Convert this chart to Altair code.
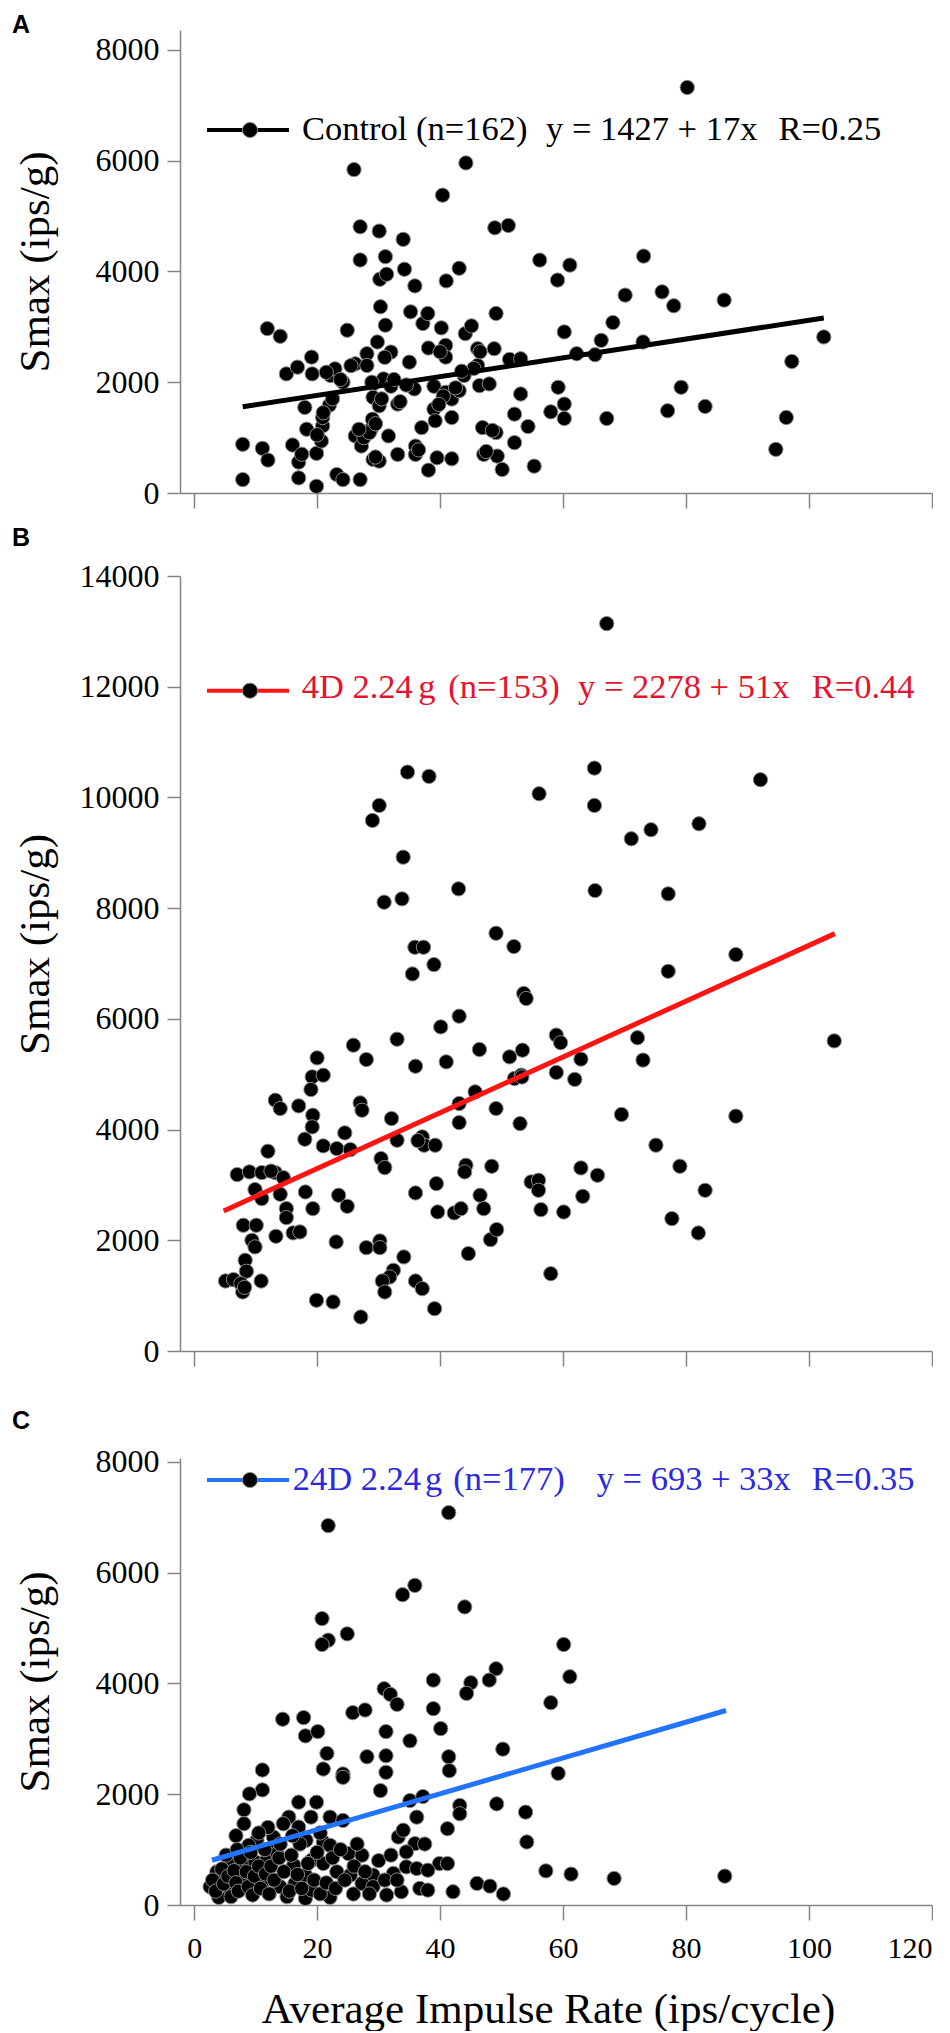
import altair as alt
import pandas as pd

# ---------------- data ----------------
a_x = [7.9, 7.9, 11.1, 11.9, 12.0, 14.0, 15.0, 16.0, 16.8, 17.0, 17.0, 18.0, 18.3, 19.1, 19.2, 19.9, 19.9,
       20.7, 20.9, 20.9, 22.0, 22.2, 22.9, 23.2, 24.2, 24.2, 24.9, 26.2, 26.2, 27.0, 27.2, 27.6, 28.1, 28.1,
       28.8, 29.0, 29.1, 29.1, 29.1, 29.8, 30.1, 30.1, 30.3, 30.8, 31.1, 31.6, 32.0, 32.0, 33.1, 33.1, 35.0,
       35.2, 35.8, 36.0, 36.0, 37.0, 37.2, 38.0, 38.1, 38.1, 39.0, 39.0, 39.2, 39.5, 40.2, 40.9, 40.9, 40.9,
       41.9, 41.9, 41.9, 43.1, 43.9, 44.1, 45.1, 46.1, 46.1, 46.4, 46.9, 47.1, 48.0, 48.8, 49.1, 49.1, 49.3,
       50.1, 51.3, 52.1, 52.1, 53.1, 53.1, 54.3, 55.3, 58.0, 59.2, 60.2, 60.2, 60.2, 62.2, 65.2, 66.2, 67.1,
       68.1, 73.0, 77.0, 78.0, 79.2, 83.1, 86.2, 94.6, 96.3, 97.2, 102.4,
       70.1, 26.0, 27.0, 30.1, 34.0, 27.0, 31.1, 34.2, 30.2, 31.3, 35.9, 40.4, 44.2, 43.1, 41.0, 80.2, 48.9,
       51.1, 56.2, 61.1, 59.1, 73.1, 76.1,
       28.5, 29.5, 30.5, 28.9, 32.5, 31.0, 21.5, 23.8, 17.5, 20.0, 21.0, 40.5, 42.5, 45.5, 46.5, 40.0, 36.5,
       39.8, 47.5, 48.5, 33.5, 34.5, 25.5, 22.5, 26.8, 29.5, 43.5]
a_y = [879, 242, 806, 2969, 594, 2830, 2151, 867, 2272, 558, 273, 1545, 1151, 2454, 2151, 715, 121,
       939, 1212, 1363, 1587, 2121, 2242, 333, 242, 2000, 2939, 2333, 1030, 242, 848, 1000, 2515, 2303,
       1151, 1333, 1969, 1727, 606, 2727, 1575, 576, 3363, 2060, 3030, 1030, 2545, 1927, 697, 1606, 2363,
       3272, 1879, 848, 697, 1181, 3060, 3242, 2618, 412, 1927, 1515, 1303, 636, 2982, 2666, 2454, 1818,
       1697, 1363, 618, 1848, 2121, 2878, 3018, 2606, 2303, 1939, 1181, 697, 1969, 2606, 3242, 1091, 667,
       424, 2412, 909, 1424, 2424, 1788, 1200, 485, 1466, 1909, 1606, 1345, 2909, 2515, 2497, 2757, 1345,
       3078, 2727, 1485, 3381, 1909, 1563, 3484, 788, 1363, 2375, 2818,
       3573, 5840, 4808, 4730, 4580, 4208, 4268, 4040, 3860, 3950, 3740, 5378, 5960, 4058, 3830, 7323, 4789,
       4831, 4206, 4116, 3845, 4278, 3633,
       1090, 1250, 1700, 2000, 2050, 2450, 2180, 2050, 700, 1050, 1450, 1750, 1900, 2250, 2550, 2550, 780,
       1600, 750, 1130, 1650, 1950, 2300, 1700, 1150, 650, 2200]

b_x = [34.7, 38.2, 30.1, 29.0, 34.0, 43.0, 30.9, 33.8, 49.1, 52.0, 35.9, 37.3, 39.0, 35.5,
       67.1, 65.1, 56.1, 65.1, 92.1, 82.1, 74.3, 71.1, 65.2, 77.1, 88.1, 77.1,
       53.6, 54.0, 43.1, 40.1, 33.0, 25.9, 28.0, 36.0, 41.0, 46.4, 51.3, 53.4, 20.0, 19.2, 21.0, 19.0,
       52.1, 53.2, 45.7, 43.1, 49.1, 13.2, 14.0, 17.0, 27.0, 27.3, 19.3, 19.2, 32.1, 43.1, 53.0, 24.5,
       18.0, 21.0, 23.2, 25.4, 33.0, 37.1, 37.4, 39.2, 12.0, 30.4, 31.0, 44.2, 44.0, 48.4, 7.0, 9.0,
       11.0, 13.2, 14.5, 9.9, 11.0, 14.0, 18.1, 23.5, 24.9, 19.3, 15.0, 15.0, 36.0, 39.4, 39.6, 42.3,
       43.4, 46.5, 47.1, 54.8, 8.0, 10.1, 9.4, 9.9, 13.3, 16.1, 17.2, 23.1, 28.0, 30.2, 30.2, 34.1,
       48.2, 49.2, 44.6, 8.3, 8.5, 5.1, 6.4, 7.6, 7.9, 10.9, 32.4, 31.8, 30.6, 31.0, 36.0, 37.1, 19.9,
       22.6, 27.1, 39.1,
       58.9, 59.6, 62.9, 58.9, 61.9, 72.1, 73.0, 104.1, 69.5, 88.1, 75.1, 79.0, 83.1, 77.7, 82.0, 62.9,
       65.6, 56.0, 56.0, 63.2, 56.4, 60.1, 58.0,
       8.2, 36.4, 53.3, 12.5]
b_y = [10458, 10380, 9855, 9584, 8921, 8349, 8107, 8168, 7546, 7306, 7293, 7293, 6980, 6811,
       13140, 10530, 10066, 9855, 10320, 9524, 9416, 9253, 8318, 8258, 7161, 6859,
       6458, 6367, 6048, 5855, 5632, 5524, 5265, 5144, 5223, 5446, 5313, 5434, 5295, 4952, 4982, 4723,
       4922, 4982, 4681, 4470, 4380, 4530, 4380, 4428, 4482, 4349, 4259, 4048, 4199, 4126, 4108, 3940,
       3825, 3705, 3657, 3638, 3807, 3867, 3717, 3717, 3608, 3476, 3313, 3355, 3235, 3337, 3187, 3235,
       3223, 3223, 3132, 2916, 2753, 2831, 2873, 2813, 2614, 2572, 2572, 2410, 2855, 3024, 2512, 2494,
       2572, 2813, 2572, 3054, 2271, 2271, 2000, 1880, 2072, 2133, 2151, 1970, 1867, 1988, 1867, 1699,
       2012, 2193, 1759, 1639, 1440, 1265, 1289, 1217, 1066, 1265, 1458, 1337, 1265, 1066, 1265, 1126, 916,
       886, 614, 765,
       5707, 5569, 5273, 5032, 4906, 5659, 5255, 5602, 4272, 4242, 3718, 3337, 2903, 2391, 2132, 3307,
       3174, 3084, 2903, 2794, 2553, 2511, 1396,
       1150, 3800, 4950, 3250]

c_x = [21.8, 41.4, 35.9, 33.9, 44.0, 20.8, 24.9, 21.8, 20.8, 49.1, 48.0, 45.0, 44.3, 38.9, 38.9, 30.9,
       31.9, 33.0, 25.8, 27.8, 14.4, 17.8,
       60.1, 61.1, 58.0,
       18.1, 20.1, 31.2, 35.1, 21.6, 21.0, 24.2, 24.2, 28.1, 31.2, 31.2, 30.3, 11.1, 11.1, 9.0, 8.1, 8.1,
       17.0, 19.9, 15.4, 14.5, 19.0, 17.0, 22.1, 24.2, 35.1, 36.2, 10.2, 12.9, 8.9, 12.9, 18.2, 21.0, 22.1,
       33.2, 35.9, 34.5, 5.9, 3.7, 7.8, 9.9, 11.8, 13.5, 16.2, 19.1, 21.0, 23.2, 25.1, 27.3, 25.4, 29.1,
       32.4, 34.5, 36.2, 2.6, 4.0, 5.9, 8.1, 11.0, 14.0, 15.1, 16.4, 18.1, 18.1, 19.1, 22.1, 25.9, 27.3,
       29.1, 31.3, 33.7, 36.7,
       40.1, 50.2, 41.4, 41.5, 59.2, 37.2, 43.2, 43.2, 49.2, 53.9, 41.2, 54.1, 39.9, 41.2, 38.0, 38.0, 42.1,
       46.0, 48.1, 50.3, 57.2, 61.3, 68.3, 86.3,
       3.0, 3.5, 4.5, 4.8, 5.2, 5.5, 6.0, 6.5, 6.8, 7.0, 7.2, 7.5, 8.5, 8.8, 9.2, 9.5, 9.8, 10.5, 10.8,
       11.5, 11.6, 12.2, 12.5, 13.0, 13.8, 14.6, 15.5, 15.8, 16.8, 17.2, 17.5, 18.5, 19.5, 20.0, 20.5,
       21.5, 22.5, 23.0, 23.8, 24.5, 26.0, 26.5, 27.8, 28.5, 30.0, 31.0, 32.0, 33.0, 34.0, 37.5, 20.5,
       16.0, 14.0, 12.0, 10.5, 6.8]
c_y = [6847, 7081, 5768, 5600, 5379, 5169, 4893, 4779, 4701, 4263, 4059, 4011, 3819, 4059, 3543, 3903,
       3801, 3621, 3471, 3519, 3352, 3382,
       4701, 4119, 3651,
       3052, 3130, 3130, 2963, 2735, 2454, 2364, 2304, 2675, 2693, 2394, 2065, 2436, 2077, 2005, 1718, 1466,
       1855, 1855, 1586, 1466, 1586, 1406, 1586, 1526, 1885, 1586, 1167, 1227, 1077, 987, 1167, 1137, 1077,
       1227, 1107, 958, 778, 599, 748, 778, 808, 928, 718, 808, 748, 599, 928, 898, 539, 539,
       569, 688, 658, 329, 138, 281, 479, 389, 329, 150, 389, 539, 120, 269, 138, 198, 389,
       329, 180, 239, 299,
       3184, 2813, 2675, 2424, 2376, 1957, 1796, 1646, 1825, 1676, 1377, 1137, 748, 748, 628, 269, 239,
       389, 341, 198, 616, 557, 479, 521,
       450, 250, 650, 380, 900, 520, 150, 620, 400, 1000, 250, 850, 600, 330, 950, 180, 520, 700, 300,
       1000, 560, 200, 700, 450, 850, 600, 250, 900, 550, 1100, 300, 750, 450, 950, 200,
       400, 850, 300, 1000, 450, 700, 1100, 600, 200, 800, 450, 900, 450, 1350, 1100, 1300,
       1250, 1100, 1400, 1300, 1250]

# regression line end points
a_line_x = [7.9, 102.4]
a_line_y = [1558, 3160]
b_line_x = [4.8, 104.2]
b_line_y = [2530, 7540]
c_line_x = [2.9, 86.5]
c_line_y = [808, 3510]

x_ticks = [0, 20, 40, 60, 80, 100, 120]
a_ticks = [0, 2000, 4000, 6000, 8000]
b_ticks = [0, 2000, 4000, 6000, 8000, 10000, 12000, 14000]
c_ticks = [0, 2000, 4000, 6000, 8000]

a_legend = ["Control (n=162)", "y = 1427 + 17x", "R=0.25"]
b_legend = ["4D 2.24", "g", "(n=153)", "y = 2278 + 51x", "R=0.44"]
c_legend = ["24D 2.24", "g", "(n=177)", "y = 693 + 33x", "R=0.35"]

y_title = "Smax (ips/g)"
x_title = "Average Impulse Rate (ips/cycle)"

# ---------------- styling / layout ----------------
SERIF = "Liberation Serif"
SANS = "Liberation Sans"
X_DOMAIN = [-2.3, 120]
WIDTH = 752
AXIS_GRAY = "#858585"


def panel(xs, ys, lx, ly, line_color, text_color, ymax, yvals, height, title_y,
          letter, letter_y, bound_y, leg_y, txt_y, pieces, piece_x, bottom):
    df = pd.DataFrame({"x": xs, "y": ys})
    ldf = pd.DataFrame({"x": lx, "y": ly})
    one = pd.DataFrame({"k": [0]})
    xscale = alt.Scale(domain=X_DOMAIN, nice=False, zero=False)
    yscale = alt.Scale(domain=[0, ymax], nice=False, zero=False)
    if bottom:
        xaxis = alt.Axis(values=x_ticks, tickSize=15, tickWidth=1.5, domainWidth=1.5,
                         labelPadding=13, labelFontSize=30, labelFont=SERIF, labelColor="black",
                         title=x_title, titleFontSize=43, titleFont=SERIF, titleFontWeight="normal",
                         titleColor="black", titleX=368, titleY=117, titleAlign="center",
                         titleBaseline="alphabetic", grid=False)
    else:
        xaxis = alt.Axis(values=x_ticks, tickSize=15, tickWidth=1.5, domainWidth=1.5,
                         labels=False, title=None, grid=False)
    yaxis = alt.Axis(values=yvals, tickSize=13, tickWidth=1.5, domainWidth=1.5, labelPadding=8,
                     labelFontSize=32, labelFont=SERIF, labelColor="black", format="d",
                     title=y_title, titleFontSize=43, titleFont=SERIF, titleFontWeight="normal",
                     titleColor="black", titleAngle=270, titleX=-145, titleY=title_y,
                     titleAlign="center", titleBaseline="middle", grid=False)

    pts = alt.Chart(df).mark_point(filled=True, shape="circle", size=205, fill="black",
                                   stroke="#8a8a8a", strokeWidth=1, opacity=1).encode(
        x=alt.X("x:Q", scale=xscale, axis=xaxis),
        y=alt.Y("y:Q", scale=yscale, axis=yaxis))
    reg = alt.Chart(ldf).mark_line(color=line_color, strokeWidth=5, strokeCap="butt").encode(
        x="x:Q", y="y:Q")
    leg_line = alt.Chart(one).mark_rule(color=line_color, strokeWidth=4).encode(
        x=alt.value(27), x2=alt.value(109), y=alt.value(leg_y))
    leg_dot = alt.Chart(one).mark_point(filled=True, shape="circle", size=230, fill="black",
                                        stroke="#8a8a8a", strokeWidth=1, opacity=1).encode(
        x=alt.value(70), y=alt.value(leg_y))
    layers = [pts, reg, leg_line, leg_dot]
    for t, px in zip(pieces, piece_x):
        layers.append(alt.Chart(one).mark_text(font=SERIF, fontSize=34.5, color=text_color,
                                                align="left", baseline="alphabetic").encode(
            x=alt.value(px), y=alt.value(txt_y), text=alt.value(t)))
    layers.append(alt.Chart(one).mark_text(font=SANS, fontWeight="bold", fontSize=25, color="black",
                                           align="left", baseline="alphabetic").encode(
        x=alt.value(-168), y=alt.value(letter_y), text=alt.value(letter)))
    # invisible spacer fixing the top edge of this panel's bounding box
    layers.append(alt.Chart(one).mark_rule(opacity=0, strokeWidth=1).encode(
        x=alt.value(0), x2=alt.value(10), y=alt.value(bound_y)))
    return alt.layer(*layers).properties(width=WIDTH, height=height)


pa = panel(a_x, a_y, a_line_x, a_line_y, "black", "black", 8361, a_ticks, 463, 231.5,
           "A", 3, -21.5, 100, 110, a_legend, [122, 366, 598.5], False)
pb = panel(b_x, b_y, b_line_x, b_line_y, "#ff1414", "#e3142d", 14000, b_ticks, 775, 368,
           "B", -30, -66.75, 114.7, 122.3, b_legend, [121.7, 238.3, 268.3, 398, 631.7], False)
pc = panel(c_x, c_y, c_line_x, c_line_y, "#2274ff", "#2a2ae0", 8067, c_ticks, 447, 223.5,
           "C", -29, -90.75, 22, 32, c_legend, [112.7, 245, 273.3, 416.7, 631.7], True)

chart = alt.vconcat(pa, pb, pc, spacing=0).properties(
    padding={"left": 4, "top": 0, "right": 0, "bottom": 0}
).configure_view(strokeWidth=0).configure_axis(
    domainColor=AXIS_GRAY, tickColor=AXIS_GRAY, labelFont=SERIF, titleFont=SERIF
).configure_text(font=SERIF)

chart.save("out.html", embed_options={"renderer": "svg", "actions": False})
